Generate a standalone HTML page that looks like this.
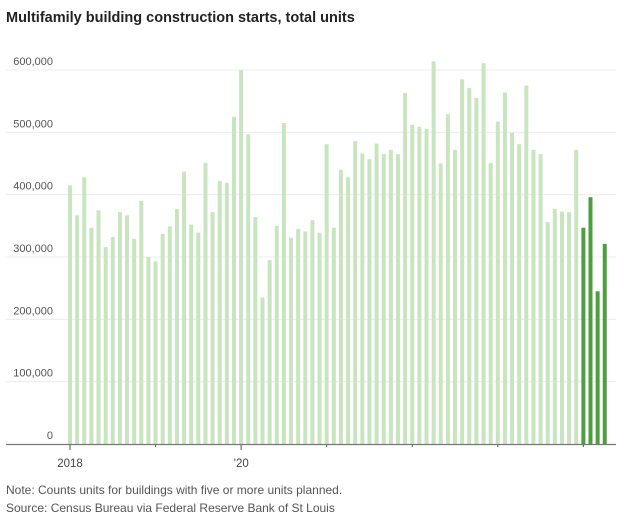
<!DOCTYPE html>
<html><head><meta charset="utf-8"><style>
body{margin:0;background:#fff;width:624px;height:513px;overflow:hidden;font-family:"Liberation Sans",sans-serif}
</style></head><body>
<svg width="624" height="513" xmlns="http://www.w3.org/2000/svg">
<text x="6" y="22" font-size="14.5" font-weight="bold" fill="#222">Multifamily building construction starts, total units</text>
<g id="grid"></g><g id="bars"></g><g id="axis"></g>
<text x="6" y="494" font-size="12" fill="#555">Note: Counts units for buildings with five or more units planned.</text>
<text x="6" y="512" font-size="12" fill="#555">Source: Census Bureau via Federal Reserve Bank of St Louis</text>
</svg>
<script>
const values=[415,367,428,347,375,316,332,372,367,329,390,300,293,337,349,377,437,352,339,451,372,422,419,525,600,497,364,235,295,350,515,331,345,341,359,339,481,347,440,428,486,466,457,482,465,472,465,563,512,509,505,614,450,529,472,585,571,555,611,451,517,564,499,481,575,472,465,356,377,373,372,472,347,396,245,321];
const highlightFrom=72;
const yTicks=[0,100000,200000,300000,400000,500000,600000];
const yTickLabels=["0","100,000","200,000","300,000","400,000","500,000","600,000"];
const xTickMonths=[0,12,24,36,48,60,72];
const xTickLabels=["2018","","’20","","","",""];
const ns="http://www.w3.org/2000/svg";
const y=v=>444-v*0.6233/1000;
const x=i=>70+i*7.13;
function mk(t,a,p){const e=document.createElementNS(ns,t);for(const k in a)e.setAttribute(k,a[k]);p.appendChild(e);return e;}
const G=document.getElementById('grid'),B=document.getElementById('bars'),A=document.getElementById('axis');
yTicks.forEach((v,i)=>{
 if(v>0){const l=mk('line',{x1:6,x2:616,y1:y(v),y2:y(v),stroke:'#ececec','stroke-width':1},G);
 
 }
 const t=mk('text',{x:53,y:y(v)-5,'font-size':11,fill:'#555','text-anchor':'end'},G);t.textContent=yTickLabels[i];
 
 
});
values.forEach((v,i)=>{
 const r=mk('rect',{x:x(i)-2,y:y(v*1000),width:4,height:444-y(v*1000),fill:i>=highlightFrom?'#4e9e40':'#c9e5c0'},B);
 
 
});
const ax=mk('line',{x1:6,x2:616,y1:444.5,y2:444.5,stroke:'#777','stroke-width':1.3},A);


xTickMonths.forEach((m,i)=>{
 const big=xTickLabels[i]!=="";
 const t=mk('line',{x1:x(m),x2:x(m),y1:445,y2:big?450:447,stroke:'#555','stroke-width':1},A);
 
 
 if(big){const l=mk('text',{x:x(m),y:467,'font-size':11.5,fill:'#444','text-anchor':'middle'},A);l.textContent=xTickLabels[i];
 
 }
});
</script>
</body></html>
